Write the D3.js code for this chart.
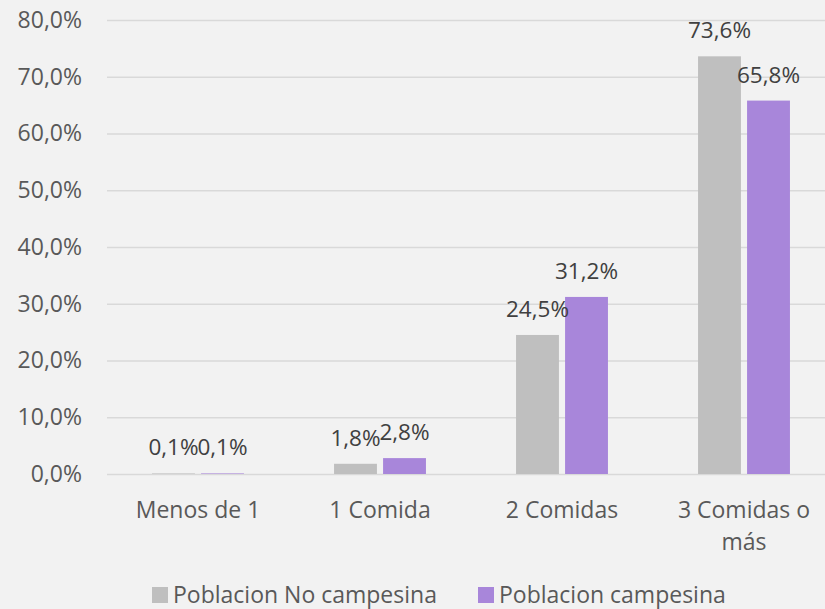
<!DOCTYPE html>
<html>
<head>
<meta charset="utf-8">
<script src="https://cdn.jsdelivr.net/npm/d3@7"></script>
<style>
  body { margin: 0; background: #f2f2f2; }
  svg text { font-family: "Open Sans", "Noto Sans", sans-serif; }
</style>
</head>
<body>
<svg width="825" height="609"></svg>
<script>
    var categories = ["Menos de 1", "1 Comida", "2 Comidas", "3 Comidas o más"];
    var series = ["Poblacion No campesina", "Poblacion campesina"];
    var noCampesina = [0.1, 1.8, 24.5, 73.6];
    var campesina = [0.1, 2.8, 31.2, 65.8];
    var yTicks = [0, 10, 20, 30, 40, 50, 60, 70, 80];
    var colors = ["#bfbfbf", "#a886da"];

    var svg = d3.select("svg"),
        margin = {top: 20, left: 107},
        plotRight = 835,
        plotBottom = 474,
        fontSize = "23px";

    // dibujar fondo
    svg.append("rect").attr("width", 825).attr("height", 609).attr("fill", "#f2f2f2");

    var x0 = d3.scaleBand().domain(categories)
        .range([margin.left, plotRight])
        .paddingInner(0.495).paddingOuter(0.2475);
    var x1 = d3.scaleBand().domain(series)
        .range([0, x0.bandwidth()])
        .paddingInner(0.125);
    var y = d3.scaleLinear().domain([0, 80]).range([plotBottom, margin.top]);

    var data = categories.map(function(c, i) {
        return {cat: c, values: [noCampesina[i], campesina[i]]};
    });

    var fmt = function(d) { return d.toFixed(1).replace(".", ",") + "%"; };

    // lineas de cuadricula
    var yAxis = d3.axisLeft(y).tickValues(yTicks)
        .tickSize(-(plotRight - margin.left))
        .tickPadding(25)
        .tickFormat(fmt);

    var gy = svg.append("g")
        .attr("transform", "translate(" + margin.left + ",0)")
        .call(yAxis);
    gy.select(".domain").remove();
    gy.selectAll(".tick line").attr("stroke", "#d9d9d9").attr("stroke-width", 1.5);
    gy.selectAll(".tick text").attr("fill", "#595959").style("font-size", fontSize);

    // barras
    var groups = svg.append("g").selectAll("g")
        .data(data).enter().append("g")
        .attr("transform", function(d) { return "translate(" + x0(d.cat) + ",0)"; });

    groups.selectAll("rect")
        .data(function(d) { return d.values.map(function(v, j) { return {s: series[j], v: v, j: j}; }); })
        .enter().append("rect")
        .attr("x", function(d) { return x1(d.s); })
        .attr("y", function(d) { return y(d.v); })
        .attr("width", x1.bandwidth())
        .attr("height", function(d) { return y(0) - y(d.v); })
        .attr("fill", function(d) { return colors[d.j]; });

    groups.selectAll("text")
        .data(function(d) { return d.values.map(function(v, j) { return {s: series[j], v: v}; }); })
        .enter().append("text")
        .attr("x", function(d) { return x1(d.s) + x1.bandwidth() / 2; })
        .attr("y", function(d) { return y(d.v) - 18; })
        .attr("text-anchor", "middle")
        .attr("fill", "#404040")
        .style("font-size", "22.5px")
        .text(function(d) { return fmt(d.v); });

    // eje x
    var xAxis = d3.axisBottom(x0).tickSize(0).tickPadding(0);
    var gx = svg.append("g")
        .attr("transform", "translate(0," + plotBottom + ")")
        .call(xAxis);
    gx.select(".domain").remove();
    gx.selectAll(".tick text").remove();
    gx.selectAll(".tick").append("text")
        .attr("text-anchor", "middle")
        .attr("fill", "#595959")
        .style("font-size", fontSize)
        .each(function(d) {
            var lines = d === "3 Comidas o más" ? ["3 Comidas o", "más"] : [d];
            var t = d3.select(this);
            lines.forEach(function(l, k) {
                t.append("tspan").attr("x", 0).attr("y", 44 + k * 32).text(l);
            });
        });

    // leyenda
    var legendX = [152, 478];
    var legend = svg.append("g").selectAll("g")
        .data(series).enter().append("g")
        .attr("transform", function(d, i) { return "translate(" + legendX[i] + ",587)"; });
    legend.append("rect").attr("width", 16).attr("height", 16)
        .attr("fill", function(d, i) { return colors[i]; });
    legend.append("text").attr("x", 21).attr("y", 16)
        .attr("fill", "#595959").style("font-size", fontSize)
        .text(function(d) { return d; });
</script>
</body>
</html>
